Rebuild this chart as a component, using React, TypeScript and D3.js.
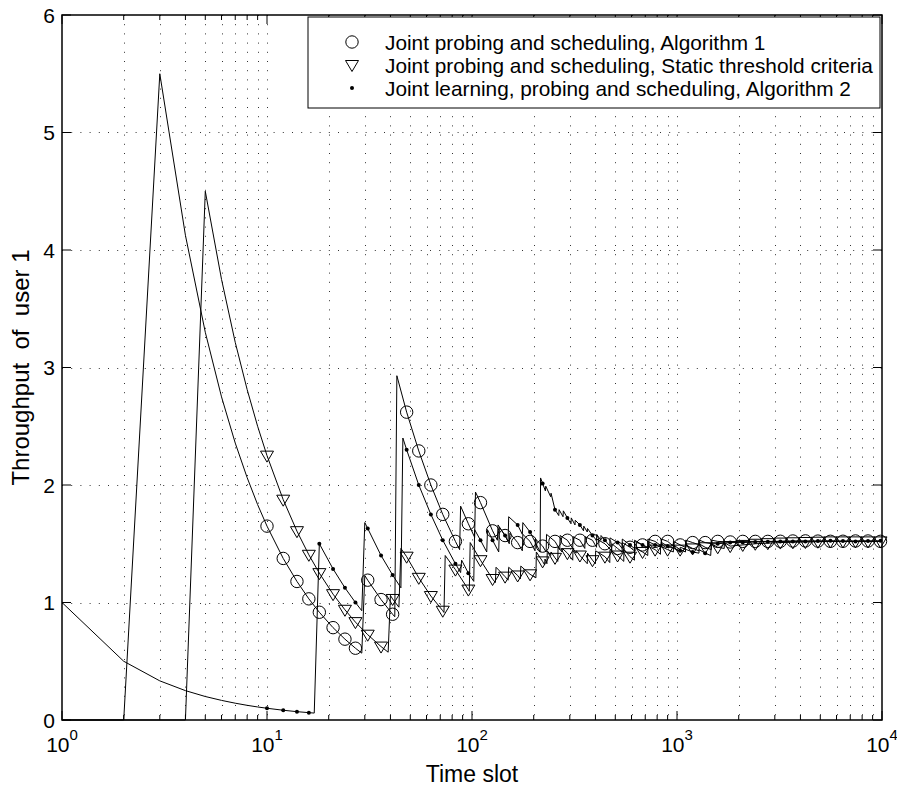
import React from "react";
import * as d3 from "d3";

const W = 897;
const H = 787;
const PLOT = { left: 62, right: 882, top: 15, bottom: 720 };

const X_MAJOR = [1, 10, 100, 1000, 10000];
const X_EXP = ["0", "1", "2", "3", "4"];
const Y_TICKS = [0, 1, 2, 3, 4, 5, 6];
const X_LABEL = "Time slot";
const Y_LABEL = "Throughput  of  user 1";
const LEGEND_LABELS = [
  "Joint probing and scheduling, Algorithm 1",
  "Joint probing and scheduling, Static threshold criteria",
  "Joint learning, probing and scheduling, Algorithm 2",
];
const LEGEND_MARKERS = ["circle", "triangle", "dot"];

const MARKER_T = [
  10, 12, 14, 16, 18, 21, 24, 27, 31, 36, 41, 48, 55, 63, 72, 83, 96, 110, 126,
  145, 167, 192, 221, 254, 292, 336, 387, 445, 513, 590, 679, 782, 900, 1036,
  1192, 1372, 1580, 1818, 2093, 2409, 2773, 3192, 3674, 4229, 4868, 5603, 6449,
  7423, 8544, 9834,
];

// Algorithm 1 (circles)
const ALG1: [number, number][] = [
  [1, 0], [2, 0], [3, 5.5], [4, 4.125], [5, 3.3], [6, 2.75], [7, 2.357], [8, 2.063],
  [9, 1.833], [10, 1.65], [12, 1.375], [14, 1.179], [16, 1.031], [18, 0.917],
  [21, 0.786], [24, 0.688], [27, 0.611], [29, 0.569], [30, 1.23], [31, 1.19],
  [36, 1.025], [41, 0.9], [42, 0.879], [43, 2.93], [48, 2.62], [55, 2.29], [63, 2.0],
  [72, 1.75], [83, 1.52], [87, 1.45], [88, 1.82], [96, 1.67], [103, 1.555], [104, 1.94],
  [110, 1.85], [126, 1.61], [133, 1.53], [134, 1.66], [145, 1.57], [152, 1.5],
  [153, 1.59], [167, 1.51], [176, 1.44], [177, 1.58], [192, 1.52], [203, 1.44],
  [204, 1.54], [221, 1.48], [230, 1.43], [231, 1.58], [254, 1.52], [268, 1.45],
  [269, 1.57], [292, 1.53], [310, 1.46], [311, 1.56], [336, 1.53], [355, 1.46],
  [356, 1.56], [387, 1.53], [405, 1.47], [406, 1.54], [445, 1.5], [480, 1.44],
  [481, 1.5], [513, 1.46], [540, 1.43], [541, 1.51], [590, 1.47], [620, 1.44],
  [621, 1.52], [679, 1.49], [720, 1.46], [721, 1.54], [782, 1.52], [840, 1.48],
  [841, 1.54], [900, 1.52], [960, 1.48], [961, 1.52], [1036, 1.49], [1100, 1.47],
  [1101, 1.53], [1192, 1.51], [1290, 1.49], [1291, 1.53], [1372, 1.51], [1480, 1.5],
  [1481, 1.53], [1580, 1.52], [1818, 1.515], [2093, 1.52], [2409, 1.52], [3000, 1.52],
  [4000, 1.525], [6000, 1.52], [8000, 1.525], [10000, 1.52],
];

// Static threshold criteria (triangles)
const STATIC: [number, number][] = [
  [1, 0], [4, 0], [5, 4.5], [6, 3.75], [7, 3.214], [8, 2.813], [9, 2.5], [10, 2.25],
  [12, 1.875], [14, 1.607], [16, 1.406], [18, 1.25], [21, 1.071], [24, 0.938],
  [27, 0.833], [31, 0.726], [36, 0.625], [39, 0.577], [40, 1.06], [41, 1.03],
  [44, 0.96], [45, 1.46], [48, 1.39], [55, 1.21], [63, 1.055], [72, 0.93],
  [73, 0.915], [74, 1.4], [83, 1.28], [96, 1.11], [97, 1.095], [98, 1.51],
  [110, 1.36], [126, 1.2], [130, 1.17], [131, 1.3], [145, 1.22], [150, 1.19],
  [151, 1.3], [167, 1.23], [172, 1.2], [173, 1.31], [192, 1.24], [205, 1.21],
  [206, 1.43], [221, 1.35], [226, 1.32], [227, 1.37], [232, 1.33], [233, 1.44],
  [242, 1.4], [243, 1.43], [254, 1.38], [262, 1.35], [263, 1.47], [275, 1.43],
  [276, 1.46], [292, 1.42], [310, 1.36], [311, 1.46], [322, 1.42], [323, 1.44],
  [336, 1.4], [365, 1.33], [366, 1.42], [387, 1.36], [400, 1.33], [401, 1.44],
  [445, 1.39], [470, 1.34], [471, 1.45], [513, 1.4], [550, 1.35], [551, 1.45],
  [590, 1.39], [620, 1.36], [621, 1.47], [679, 1.43], [720, 1.4], [721, 1.48],
  [782, 1.45], [830, 1.41], [831, 1.48], [900, 1.45], [960, 1.43], [961, 1.49],
  [1036, 1.45], [1100, 1.43], [1101, 1.49], [1192, 1.46], [1280, 1.44], [1281, 1.5],
  [1372, 1.47], [1470, 1.45], [1471, 1.5], [1580, 1.47], [1700, 1.46], [1701, 1.51],
  [1818, 1.48], [2093, 1.49], [2409, 1.5], [2773, 1.505], [3192, 1.51], [4229, 1.515],
  [5603, 1.52], [7423, 1.52], [10000, 1.52],
];

// Algorithm 2 (dots)
const ALG2: [number, number][] = [
  [1, 1], [2, 0.5], [3, 0.333], [4, 0.25], [5, 0.2], [6, 0.167], [7, 0.143],
  [8, 0.125], [9, 0.111], [10, 0.1], [12, 0.083], [14, 0.071], [16, 0.0625],
  [17, 0.059], [18, 1.5], [21, 1.286], [24, 1.125], [27, 1.0], [29, 0.93], [30, 1.68],
  [31, 1.63], [36, 1.4], [41, 1.234], [45, 1.125], [46, 2.4], [48, 2.3], [55, 2.0],
  [63, 1.75], [72, 1.53], [83, 1.33], [88, 1.255], [89, 1.36], [96, 1.25],
  [102, 1.18], [103, 1.62], [110, 1.53], [118, 1.43], [119, 1.62], [126, 1.53],
  [135, 1.43], [136, 1.64], [145, 1.57], [150, 1.52], [151, 1.73], [167, 1.66],
  [176, 1.58], [177, 1.68], [192, 1.6], [215, 1.43], [216, 2.06], [228, 1.95],
  [229, 1.99], [242, 1.9], [243, 1.93], [254, 1.79], [265, 1.74], [266, 1.79],
  [278, 1.73], [279, 1.78], [292, 1.72], [304, 1.67], [305, 1.72], [318, 1.66],
  [319, 1.7], [336, 1.66], [350, 1.61], [351, 1.65], [365, 1.6], [366, 1.63],
  [387, 1.57], [405, 1.53], [406, 1.58], [425, 1.53], [426, 1.57], [445, 1.53],
  [470, 1.48], [471, 1.55], [513, 1.51], [540, 1.46], [541, 1.54], [590, 1.49],
  [620, 1.46], [621, 1.53], [679, 1.49], [720, 1.47], [721, 1.52], [782, 1.49],
  [840, 1.47], [841, 1.51], [900, 1.48], [1036, 1.44], [1037, 1.47], [1192, 1.43],
  [1280, 1.42], [1281, 1.45], [1372, 1.42], [1460, 1.4], [1470, 1.5], [1580, 1.5],
  [1818, 1.51], [2093, 1.51], [2409, 1.515], [3192, 1.52], [4229, 1.52],
  [5603, 1.525], [7423, 1.52], [10000, 1.525],
];

const FONT = "'Liberation Sans', Arial, Helvetica, sans-serif";

function valueAt(s: [number, number][], t: number): number {
  for (let i = 0; i < s.length - 1; i++) {
    const [t0, v0] = s[i];
    const [t1, v1] = s[i + 1];
    if (t >= t0 && t <= t1) {
      if (t1 === t0) return v1;
      const f = (Math.log(t) - Math.log(t0)) / (Math.log(t1) - Math.log(t0));
      return v0 + f * (v1 - v0);
    }
  }
  return s[s.length - 1][1];
}

function Marker({ kind, x, y }: { kind: string; x: number; y: number }) {
  if (kind === "circle")
    return <circle cx={x} cy={y} r={6.2} fill="none" stroke="#000" strokeWidth={1} />;
  if (kind === "triangle")
    return (
      <path
        d={`M${x - 6.5},${y - 4.5}L${x + 6.5},${y - 4.5}L${x},${y + 6.5}Z`}
        fill="none"
        stroke="#000"
        strokeWidth={1}
      />
    );
  return <circle cx={x} cy={y} r={2} fill="#000" />;
}

export default function App() {
  const x = d3.scaleLog().domain([1, 10000]).range([PLOT.left, PLOT.right]);
  const y = d3.scaleLinear().domain([0, 6]).range([PLOT.bottom, PLOT.top]);

  const minor: number[] = [];
  X_MAJOR.slice(0, -1).forEach((d) => {
    for (let k = 2; k <= 9; k++) minor.push(d * k);
  });

  const line = d3
    .line<[number, number]>()
    .x((d) => x(d[0]))
    .y((d) => y(d[1]));

  const series = [
    { data: ALG1, kind: "circle" },
    { data: STATIC, kind: "triangle" },
    { data: ALG2, kind: "dot" },
  ];

  const gridColor = "#333";
  const dash = "1,8.2";

  return (
    <svg
      width={W}
      height={H}
      style={{ position: "absolute", left: 0, top: 0, background: "#fff" }}
      fontFamily={FONT}
    >
      <rect x={0} y={0} width={W} height={H} fill="#fff" />
      {/* grid */}
      {[...X_MAJOR.slice(1, -1), ...minor].map((t, i) => (
        <line
          key={"gx" + i}
          x1={Math.round(x(t)) + 0.5}
          x2={Math.round(x(t)) + 0.5}
          y1={PLOT.top}
          y2={PLOT.bottom}
          stroke={gridColor}
          strokeWidth={1}
          strokeDasharray={dash}
        />
      ))}
      {Y_TICKS.slice(1, -1).map((v, i) => (
        <line
          key={"gy" + i}
          x1={PLOT.left}
          x2={PLOT.right}
          y1={Math.round(y(v)) + 0.5}
          y2={Math.round(y(v)) + 0.5}
          stroke={gridColor}
          strokeWidth={1}
          strokeDasharray={dash}
        />
      ))}
      {/* ticks */}
      {X_MAJOR.map((t, i) => (
        <g key={"xt" + i}>
          <line x1={x(t)} x2={x(t)} y1={PLOT.bottom} y2={PLOT.bottom - 9} stroke="#000" />
          <line x1={x(t)} x2={x(t)} y1={PLOT.top} y2={PLOT.top + 9} stroke="#000" />
        </g>
      ))}
      {minor.map((t, i) => (
        <g key={"xm" + i}>
          <line x1={x(t)} x2={x(t)} y1={PLOT.bottom} y2={PLOT.bottom - 5} stroke="#000" />
          <line x1={x(t)} x2={x(t)} y1={PLOT.top} y2={PLOT.top + 5} stroke="#000" />
        </g>
      ))}
      {Y_TICKS.map((v, i) => (
        <g key={"yt" + i}>
          <line x1={PLOT.left} x2={PLOT.left + 9} y1={y(v)} y2={y(v)} stroke="#000" />
          <line x1={PLOT.right} x2={PLOT.right - 9} y1={y(v)} y2={y(v)} stroke="#000" />
        </g>
      ))}
      {/* data lines */}
      {series.map((s, i) => (
        <path key={"l" + i} d={line(s.data) || ""} fill="none" stroke="#000" strokeWidth={1} />
      ))}
      {/* markers */}
      {series.map((s, i) => (
        <g key={"m" + i}>
          {MARKER_T.map((t, j) => (
            <Marker key={j} kind={s.kind} x={x(t)} y={y(valueAt(s.data, t))} />
          ))}
        </g>
      ))}
      {/* box */}
      <rect
        x={PLOT.left}
        y={PLOT.top}
        width={PLOT.right - PLOT.left}
        height={PLOT.bottom - PLOT.top}
        fill="none"
        stroke="#000"
        strokeWidth={1.5}
      />
      {/* tick labels */}
      {Y_TICKS.map((v, i) => (
        <text
          key={"yl" + i}
          x={55}
          y={y(v)}
          textAnchor="end"
          dominantBaseline="central"
          fontSize={21}
        >
          {v}
        </text>
      ))}
      {X_MAJOR.map((t, i) => (
        <text key={"xl" + i} x={x(t)} y={752} textAnchor="middle" fontSize={21}>
          10
          <tspan dy={-12} fontSize={15}>
            {X_EXP[i]}
          </tspan>
        </text>
      ))}
      {/* axis labels */}
      <text x={(PLOT.left + PLOT.right) / 2} y={782} textAnchor="middle" fontSize={23}>
        {X_LABEL}
      </text>
      <text
        transform={`translate(29, ${(PLOT.top + PLOT.bottom) / 2}) rotate(-90)`}
        textAnchor="middle"
        fontSize={24}
        style={{ whiteSpace: "pre" }}
      >
        {Y_LABEL}
      </text>
      {/* legend */}
      <rect x={308} y={17} width={572} height={91} fill="#fff" stroke="#000" strokeWidth={1} />
      {LEGEND_LABELS.map((lab, i) => (
        <g key={"lg" + i}>
          <Marker kind={LEGEND_MARKERS[i]} x={352} y={42 + i * 23} />
          <text x={385} y={42 + i * 23} dominantBaseline="central" fontSize={20.8}>
            {lab}
          </text>
        </g>
      ))}
    </svg>
  );
}
